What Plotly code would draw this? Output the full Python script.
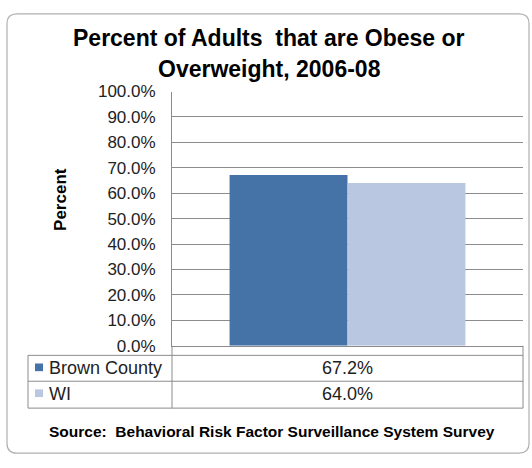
import plotly.graph_objects as go

# ---- data ----
categories = ["Brown County", "WI"]
values = [67.2, 64.0]
colors = ["#4572A7", "#B9C7E0"]
y_tick_values = [0, 10, 20, 30, 40, 50, 60, 70, 80, 90, 100]
y_tick_labels = [f"{v:.1f}%" for v in y_tick_values]
title_lines = ["Percent of Adults  that are Obese or", "Overweight, 2006-08"]
y_title = "Percent"
source_text = "Source:  Behavioral Risk Factor Surveillance System Survey"

W, H = 532, 468
FONT = "Arial, Liberation Sans, sans-serif"
GRID = "#8c8c8c"


def px(x):
    return x / W


def py(y):
    return 1 - y / H


fig = go.Figure()
for name, v, c in zip(categories, values, colors):
    fig.add_trace(go.Bar(x=[""], y=[v], name=name, marker=dict(color=c, line=dict(width=0)),
                         showlegend=False, hoverinfo="name+y"))

fig.update_layout(
    width=W, height=H,
    margin=dict(l=0, r=0, t=0, b=0),
    paper_bgcolor="white", plot_bgcolor="white",
    barmode="group", bargap=0.328, bargroupgap=0,
    font=dict(family=FONT, color="#222222"),
    xaxis=dict(domain=[px(172), px(523)], showticklabels=False, showgrid=False,
               showline=True, linecolor=GRID, linewidth=1, zeroline=False, fixedrange=True),
    yaxis=dict(domain=[py(351), py(86)], range=[0, 100], tickvals=y_tick_values,
               ticktext=y_tick_labels, showgrid=True, gridcolor=GRID, gridwidth=1,
               showline=True, linecolor=GRID, linewidth=1, zeroline=False, ticks="",
               ticklabelstandoff=12, tickfont=dict(size=17, color="#222222"), fixedrange=True),
)

shapes = []
# chart border (rounded rectangle)
x0, y0, x1, y1, r = 7, 5, 529, 463, 10
path = (f"M {px(x0 + r)},{py(y0)} L {px(x1 - r)},{py(y0)} Q {px(x1)},{py(y0)} {px(x1)},{py(y0 + r)} "
        f"L {px(x1)},{py(y1 - r)} Q {px(x1)},{py(y1)} {px(x1 - r)},{py(y1)} "
        f"L {px(x0 + r)},{py(y1)} Q {px(x0)},{py(y1)} {px(x0)},{py(y1 - r)} "
        f"L {px(x0)},{py(y0 + r)} Q {px(x0)},{py(y0)} {px(x0 + r)},{py(y0)} Z")
shapes.append(dict(type="path", xref="paper", yref="paper", path=path,
                   line=dict(color="#b0b0b0", width=1.2)))

# data table lines
for yy in [361, 388, 416]:
    shapes.append(dict(type="line", xref="paper", yref="paper", x0=px(28), x1=px(523), y0=py(yy), y1=py(yy),
                       line=dict(color=GRID, width=1)))
shapes.append(dict(type="line", xref="paper", yref="paper", x0=px(28), x1=px(28), y0=py(361), y1=py(416),
                   line=dict(color=GRID, width=1)))
for xx in [172, 523]:
    shapes.append(dict(type="line", xref="paper", yref="paper", x0=px(xx), x1=px(xx), y0=py(351), y1=py(416),
                       line=dict(color=GRID, width=1)))

row_centers = [374.5, 401.5]
annotations = []
for name, v, c, yc in zip(categories, values, colors, row_centers):
    shapes.append(dict(type="rect", xref="paper", yref="paper", x0=px(35), x1=px(43), y0=py(yc - 5), y1=py(yc + 3),
                       fillcolor=c, line=dict(width=0)))
    annotations.append(dict(xref="paper", yref="paper", x=px(47), y=py(yc), xanchor="left", yanchor="middle",
                            text=name, showarrow=False, font=dict(size=18, color="#222222")))
    annotations.append(dict(xref="paper", yref="paper", x=px(347.5), y=py(yc), xanchor="center", yanchor="middle",
                            text=f"{v:.1f}%", showarrow=False, font=dict(size=18, color="#222222")))

# title
for line, yc in zip(title_lines, [30, 63]):
    annotations.append(dict(xref="paper", yref="paper", x=px(269), y=py(yc), xanchor="center", yanchor="middle",
                            text=f"<b>{line}</b>", showarrow=False, font=dict(size=23, color="#000000")))
# y-axis title
annotations.append(dict(xref="paper", yref="paper", x=px(61), y=py(199), xanchor="center", yanchor="middle",
                        text=f"<b>{y_title}</b>", textangle=-90, showarrow=False,
                        font=dict(size=17, color="#000000")))
# source
annotations.append(dict(xref="paper", yref="paper", x=px(272), y=py(440), xanchor="center", yanchor="middle",
                        text=f"<b>{source_text}</b>", showarrow=False, font=dict(size=15.5, color="#000000")))

fig.update_layout(shapes=shapes, annotations=annotations)

fig.write_html("out.html", config={"displayModeBar": False},
               post_script="document.body.style.margin='0';document.body.style.overflow='hidden';")
